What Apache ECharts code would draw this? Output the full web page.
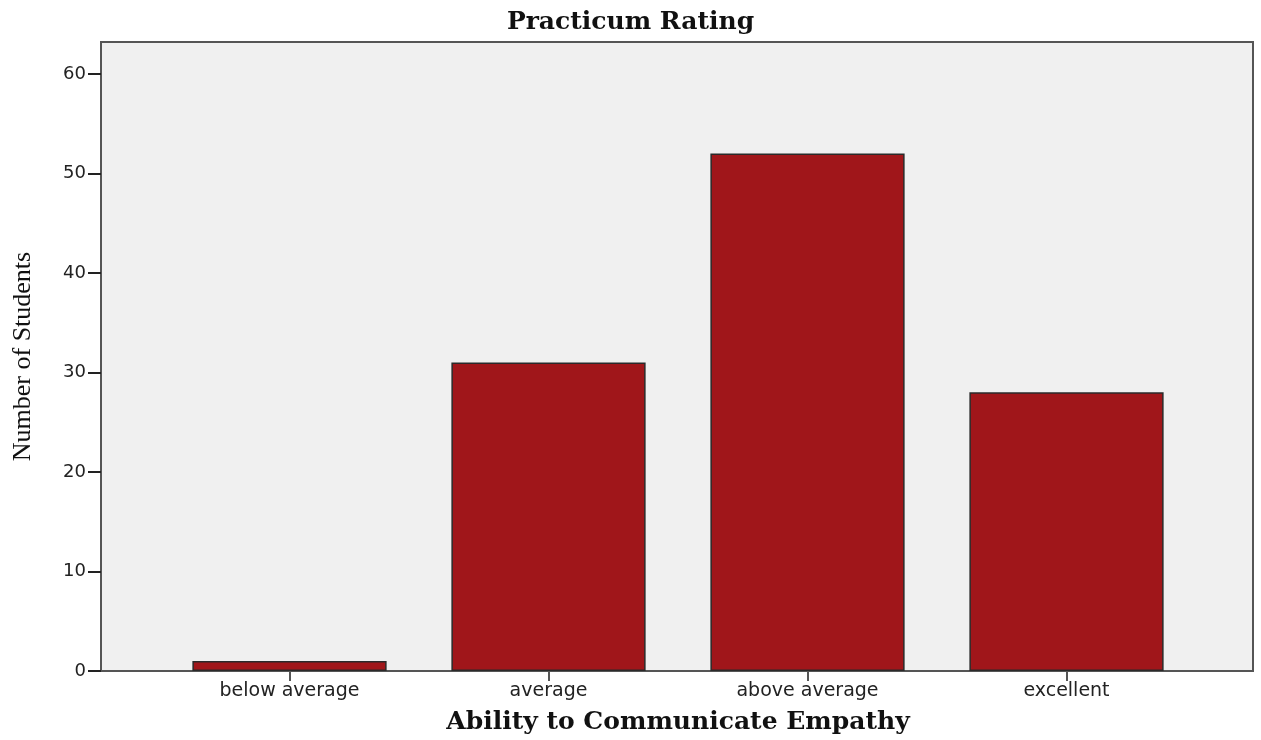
<!DOCTYPE html>
<html>
<head>
<meta charset="utf-8">
<script src="https://cdn.jsdelivr.net/npm/echarts@6/dist/echarts.min.js"></script>
<style>
  html, body { margin: 0; padding: 0; background: #fff; }
  #chart { width: 1261px; height: 740px; }
</style>
</head>
<body>
<div id="chart"></div>
<script>
var categories = ['below average', 'average', 'above average', 'excellent'];
var students = [1, 31, 52, 28];
var yTicks = { min: 0, max: 63.2, interval: 10 };

(function() {
  var barColor = '#a0161a';
  var frame = '#555555';
  var ink = '#222222';

  var chart = echarts.init(document.getElementById('chart'), null, { renderer: 'canvas' });
  chart.setOption({
    animation: false,
    backgroundColor: '#ffffff',
    title: {
      text: 'Practicum Rating',
      left: 'center',
      top: 5,
      textStyle: { fontFamily: 'DejaVu Serif', fontWeight: 'bold', fontSize: 25, color: '#111' }
    },
    grid: [
      // outer frame with grey plot background
      { left: 101, top: 42, width: 1152, height: 629, show: true, outerBoundsMode: 'none',
        backgroundColor: '#f0f0f0', borderColor: frame, borderWidth: 2 },
      // data area, inset like the original
      { left: 160, top: 42, width: 1036, height: 629, outerBoundsMode: 'none' }
    ],
    xAxis: [
      { gridIndex: 0, type: 'value', show: false },
      {
        gridIndex: 1,
        type: 'category',
        data: categories,
        name: 'Ability to Communicate Empathy',
        nameLocation: 'middle',
        nameGap: 39,
        nameTextStyle: { fontFamily: 'DejaVu Serif', fontWeight: 'bold', fontSize: 25, color: '#111' },
        axisLine: { show: false },
        axisTick: { show: true, alignWithLabel: true, length: 10, lineStyle: { color: frame, width: 2 } },
        axisLabel: { color: ink, fontFamily: 'DejaVu Sans', fontSize: 19, margin: 11 }
      }
    ],
    yAxis: [
      { gridIndex: 0, type: 'value', show: false },
      {
        gridIndex: 1,
        type: 'value',
        min: yTicks.min,
        max: yTicks.max,
        interval: yTicks.interval,
        offset: 59,
        name: 'Number of Students',
        nameLocation: 'middle',
        nameGap: 65,
        nameTextStyle: { fontFamily: 'Liberation Serif', fontSize: 26, color: '#111' },
        axisLine: { show: true, lineStyle: { color: frame, width: 2 } },
        axisTick: { show: true, length: 13, lineStyle: { color: ink, width: 2 } },
        axisLabel: { color: ink, fontFamily: 'DejaVu Sans', fontSize: 18, margin: 15, showMaxLabel: false },
        splitLine: { show: false }
      }
    ],
    series: [{
      type: 'bar',
      xAxisIndex: 1,
      yAxisIndex: 1,
      data: students,
      barCategoryGap: '25%',
      itemStyle: { color: barColor, borderColor: '#2a2a2a', borderWidth: 1.5 }
    }]
  });
})();
</script>
</body>
</html>
